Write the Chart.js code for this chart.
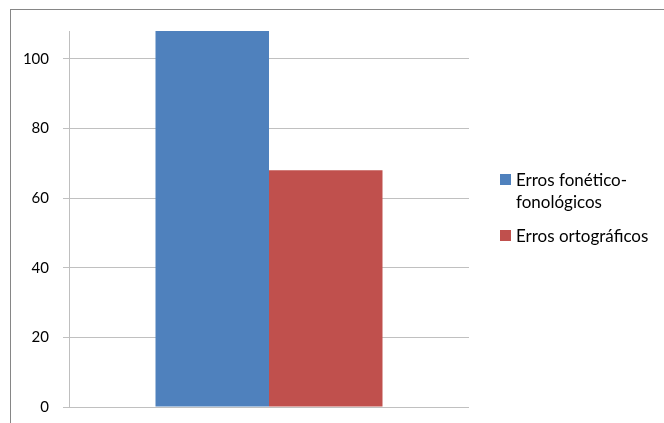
<!DOCTYPE html>
<html>
<head>
<meta charset="utf-8">
<script src="https://cdn.jsdelivr.net/npm/chart.js@4"></script>
<style>
  body { margin: 0; background: #fff; width: 664px; height: 423px; overflow: hidden; position: relative; font-family: Lato, "Open Sans", sans-serif; }
  .frame { position: absolute; left: 10px; top: 9px; width: 700px; height: 460px; border: 1px solid #868686; box-sizing: border-box; }
  .wrap { position: absolute; left: 0; top: 0; width: 664px; height: 430px; }
  .legend { position: absolute; left: 500px; top: 169px; font-size: 17px; color: #000; }
  .legend-item { position: relative; padding-left: 16px; line-height: 22px; margin-bottom: 12px; }
  .legend-item .box { position: absolute; left: 0; top: 5px; width: 11px; height: 11px; }
</style>
</head>
<body>
<div class="frame"></div>
<div class="wrap"><canvas id="myChart" width="664" height="430"></canvas></div>
<div class="legend" id="legend"></div>
<script>
const categories = [''];
const seriesNames = [['Erros fonético-', 'fonológicos'], ['Erros ortográficos']];
const foneticoValues = [108];
const ortograficoValues = [68];
const yTicks = [0, 20, 40, 60, 80, 100];
const colors = ['#4F81BD', '#C0504D'];

const ctx = document.getElementById('myChart');
const myChart = new Chart(ctx, {
    type: 'bar',
    data: {
        labels: categories,
        datasets: [{
            label: seriesNames[0].join(' '),
            data: foneticoValues,
            backgroundColor: colors[0],
            borderWidth: 0,
            barPercentage: 1,
            categoryPercentage: 0.5675
        }, {
            label: seriesNames[1].join(' '),
            data: ortograficoValues,
            backgroundColor: colors[1],
            borderWidth: 0,
            barPercentage: 1,
            categoryPercentage: 0.5675
        }]
    },
    options: {
        responsive: false,
        animation: false,
        layout: {
            padding: { left: 0, top: 31, right: 195, bottom: 4 }
        },
        plugins: {
            legend: { display: false },
            tooltip: { enabled: false }
        },
        scales: {
            x: { display: false },
            y: {
                min: 0,
                max: 108,
                afterBuildTicks: (scale) => {
                    scale.ticks = yTicks.map(v => ({ value: v }));
                },
                afterFit: (scale) => {
                    scale.width = 69;
                },
                border: { color: '#bfbfbf', width: 1 },
                grid: { color: '#c0c0c0', tickLength: 6, drawTicks: true },
                ticks: {
                    color: '#000',
                    padding: 14,
                    font: { family: 'Lato', size: 15 }
                }
            }
        }
    }
});

// legend beside the plot
const legend = document.getElementById('legend');
seriesNames.forEach((lines, i) => {
    const item = document.createElement('div');
    item.className = 'legend-item';
    item.innerHTML = '<span class="box" style="background:' + colors[i] + '"></span>' + lines.join('<br>');
    legend.appendChild(item);
});
</script>
</body>
</html>
